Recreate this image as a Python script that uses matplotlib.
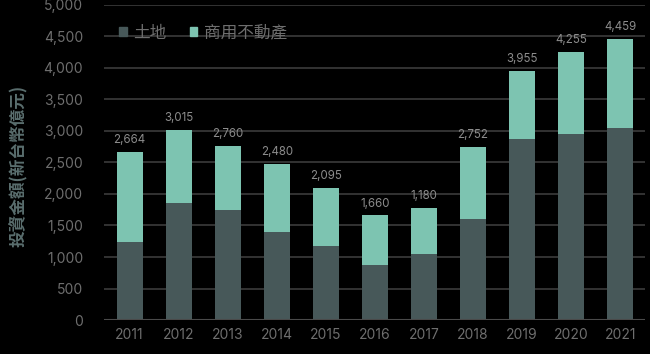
import matplotlib
matplotlib.use("Agg")
import matplotlib.pyplot as plt
from matplotlib.patches import Patch

years = ["2011", "2012", "2013", "2014", "2015", "2016", "2017", "2018", "2019", "2020", "2021"]
land = [1240, 1850, 1750, 1390, 1180, 880, 1040, 1600, 2870, 2960, 3040]
totals = [2664, 3015, 2760, 2480, 2095, 1660, 1780, 2752, 3955, 4255, 4459]
commercial = [t - l for t, l in zip(totals, land)]
total_labels = ["2,664", "3,015", "2,760", "2,480", "2,095", "1,660", "1,180", "2,752", "3,955", "4,255", "4,459"]
yticks = [0, 500, 1000, 1500, 2000, 2500, 3000, 3500, 4000, 4500, 5000]
series_names = ["土地", "商用不動產"]

plt.rcParams['font.family'] = ['Inter', 'Noto Sans CJK TC', 'DejaVu Sans']

c_land = "#475859"
c_comm = "#7dc4b1"
c_text = "#6e6e6e"
c_grid = "#3c3c3c"

fig = plt.figure(figsize=(6.5, 3.54), dpi=100, facecolor="black")
ax = fig.add_axes([0.16, 0.096, 0.832, 0.89], facecolor="black")

x = list(range(len(years)))
ax.bar(x, land, width=0.53, color=c_land, zorder=3)
ax.bar(x, commercial, bottom=land, width=0.53, color=c_comm, zorder=3)

for xi, t, lab in zip(x, totals, total_labels):
    ax.text(xi, t + 90, lab, ha="center", va="bottom", fontsize=8.3, color="#8c8c8c",
            family=['Inter', 'DejaVu Sans'])

ax.set_ylim(0, 5000)
ax.set_xlim(-0.52, 10.5)
ax.set_yticks(yticks)
ax.set_yticklabels([f"{v:,}" for v in yticks])
ax.set_xticks(x)
ax.set_xticklabels(years)
ax.tick_params(axis="both", length=0, colors=c_text, labelsize=10)
ax.tick_params(axis="y", pad=15)
ax.tick_params(axis="x", pad=6)
ax.grid(axis="y", color=c_grid, linewidth=1.2, zorder=0)
for s in ax.spines.values():
    s.set_visible(False)
ax.axhline(0, color="#4a4a4a", linewidth=1.5, zorder=4)

ax.set_ylabel("投資金額(新台幣億元)", color="#5a6e6e", fontsize=12, fontweight="bold",
              family=['Noto Sans CJK TC', 'DejaVu Sans'])
ax.yaxis.set_label_coords(-0.14, 0.49)

handles = [Patch(color=c_land), Patch(color=c_comm)]
leg = ax.legend(handles, series_names, loc="upper left", bbox_to_anchor=(0.0, 0.985),
                frameon=False, ncol=2, handlelength=0.45, handleheight=0.45,
                handletextpad=0.4, columnspacing=1.4,
                prop={'family': ['Noto Sans CJK TC', 'DejaVu Sans'], 'size': 12})
for t in leg.get_texts():
    t.set_color(c_text)

fig.savefig("out.png", dpi=100, facecolor="black")
